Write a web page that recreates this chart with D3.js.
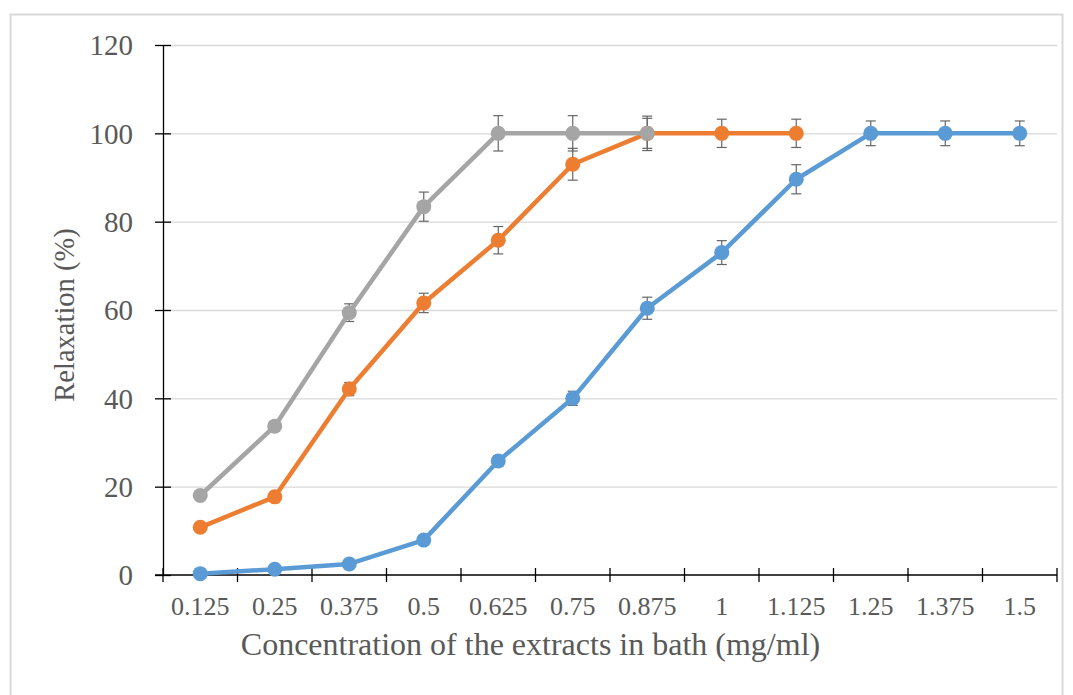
<!DOCTYPE html>
<html>
<head>
<meta charset="utf-8">
<script src="https://cdn.jsdelivr.net/npm/d3@7"></script>
<style>
  body { margin: 0; background: #fff; }
  svg { display: block; }
  text { font-family: "Liberation Serif", "Times New Roman", serif; fill: #595959; }
</style>
</head>
<body>
<svg id="chart" width="1073" height="695"></svg>
<script>
// concentrations (mg/ml)
var categories = ["0.125", "0.25", "0.375", "0.5", "0.625", "0.75", "0.875", "1", "1.125", "1.25", "1.375", "1.5"];
var yTicks = [0, 20, 40, 60, 80, 100, 120];

// relaxation (%) and error bars for each extract
var blueValues   = [0.3, 1.3, 2.5, 7.9, 25.8, 40, 60.4, 73, 89.6, 100, 100, 100];
var blueErrors   = [0.3, 0.5, 0.6, 1, 1.2, 1.6, 2.5, 2.7, 3.3, 2.8, 2.8, 2.8];
var orangeValues = [10.8, 17.7, 42.1, 61.6, 75.8, 93, 100, 100, 100, null, null, null];
var orangeErrors = [0.5, 0.6, 1.5, 2.2, 3.1, 3.6, 3.4, 3.2, 3.2, null, null, null];
var grayValues   = [18, 33.7, 59.4, 83.4, 100, 100, 100, null, null, null, null, null];
var grayErrors   = [0.5, 0.8, 2.0, 3.3, 4.0, 4.0, 3.9, null, null, null, null, null];

var series = [
    { values: blueValues, errors: blueErrors, color: "#5B9BD5" },
    { values: orangeValues, errors: orangeErrors, color: "#ED7D31" },
    { values: grayValues, errors: grayErrors, color: "#A5A5A5" }
];

var svg = d3.select("#chart");
var plotLeft = 163, plotRight = 1057, plotTop = 45, plotBottom = 575;

// outer chart border
svg.append("rect")
    .attr("x", 10.5).attr("y", 14.5)
    .attr("width", 1052).attr("height", 700)
    .attr("fill", "none")
    .attr("stroke", "#d9d9d9")
    .attr("stroke-width", 2);

var x = d3.scaleBand().domain(categories).range([plotLeft, plotRight]);
var y = d3.scaleLinear().domain([0, 120]).range([plotBottom, plotTop]);
var cx = function (c) { return x(c) + x.bandwidth() / 2; };

// gridlines
svg.append("g")
    .selectAll("line")
    .data(yTicks.filter(function (d) { return d > 0; }))
    .enter().append("line")
        .attr("x1", plotLeft).attr("x2", plotRight)
        .attr("y1", function (d) { return y(d) + 0.5; })
        .attr("y2", function (d) { return y(d) + 0.5; })
        .attr("stroke", "#d9d9d9")
        .attr("stroke-width", 1.3);

// y axis
var yAxis = d3.axisLeft(y).tickValues(yTicks).tickSize(0).tickPadding(30);
var gy = svg.append("g").attr("transform", "translate(" + plotLeft + ",0)").call(yAxis);
gy.select(".domain").attr("stroke", "#000").attr("stroke-width", 1.3);
gy.selectAll("text").style("font-size", "29px").attr("fill", "#595959").attr("dy", "0.34em");
gy.selectAll(".tick").append("line")
    .attr("x1", -8).attr("x2", 8)
    .attr("stroke", "#000").attr("stroke-width", 1.3);

// x axis
var xAxis = d3.axisBottom(x).tickSize(0).tickPadding(22);
var gx = svg.append("g").attr("transform", "translate(0," + plotBottom + ")").call(xAxis);
gx.select(".domain").attr("d", "M" + (plotLeft - 8) + ",0H" + plotRight)
    .attr("stroke", "#000").attr("stroke-width", 1.3);
gx.selectAll("text").style("font-size", "26px").attr("fill", "#595959");
gx.selectAll(".edge")
    .data(categories.concat([null]))
    .enter().append("line")
        .attr("x1", function (d, i) { return plotLeft + i * x.bandwidth(); })
        .attr("x2", function (d, i) { return plotLeft + i * x.bandwidth(); })
        .attr("y1", -7).attr("y2", 7)
        .attr("stroke", "#000").attr("stroke-width", 1.3);

// axis titles
svg.append("text")
    .attr("x", (241 + 820) / 2).attr("y", 655)
    .attr("text-anchor", "middle")
    .style("font-size", "32px")
    .text("Concentration of the extracts in bath (mg/ml)");

svg.append("text")
    .attr("transform", "translate(74,315) rotate(-90)")
    .attr("text-anchor", "middle")
    .style("font-size", "28.5px")
    .text("Relaxation (%)");

// series
var line = d3.line()
    .defined(function (d) { return d.v != null; })
    .x(function (d) { return cx(d.c); })
    .y(function (d) { return y(d.v); });

series.forEach(function (s) {
    var pts = categories.map(function (c, i) { return { c: c, v: s.values[i], e: s.errors[i] }; })
        .filter(function (d) { return d.v != null; });
    var g = svg.append("g");

    var eb = g.selectAll(".err").data(pts).enter().append("g");
    eb.append("line")
        .attr("x1", function (d) { return cx(d.c); })
        .attr("x2", function (d) { return cx(d.c); })
        .attr("y1", function (d) { return y(d.v + d.e); })
        .attr("y2", function (d) { return y(d.v - d.e); })
        .attr("stroke", "#666").attr("stroke-width", 1.2);
    [1, -1].forEach(function (sign) {
        eb.append("line")
            .attr("x1", function (d) { return cx(d.c) - 5; })
            .attr("x2", function (d) { return cx(d.c) + 5; })
            .attr("y1", function (d) { return y(d.v + sign * d.e); })
            .attr("y2", function (d) { return y(d.v + sign * d.e); })
            .attr("stroke", "#666").attr("stroke-width", 1.2);
    });

    g.append("path")
        .datum(pts)
        .attr("d", line)
        .attr("fill", "none")
        .attr("stroke", s.color)
        .attr("stroke-width", 4.5)
        .attr("stroke-linejoin", "round");

    g.selectAll("circle").data(pts).enter().append("circle")
        .attr("cx", function (d) { return cx(d.c); })
        .attr("cy", function (d) { return y(d.v); })
        .attr("r", 7.5)
        .attr("fill", s.color);
});
</script>
</body>
</html>
